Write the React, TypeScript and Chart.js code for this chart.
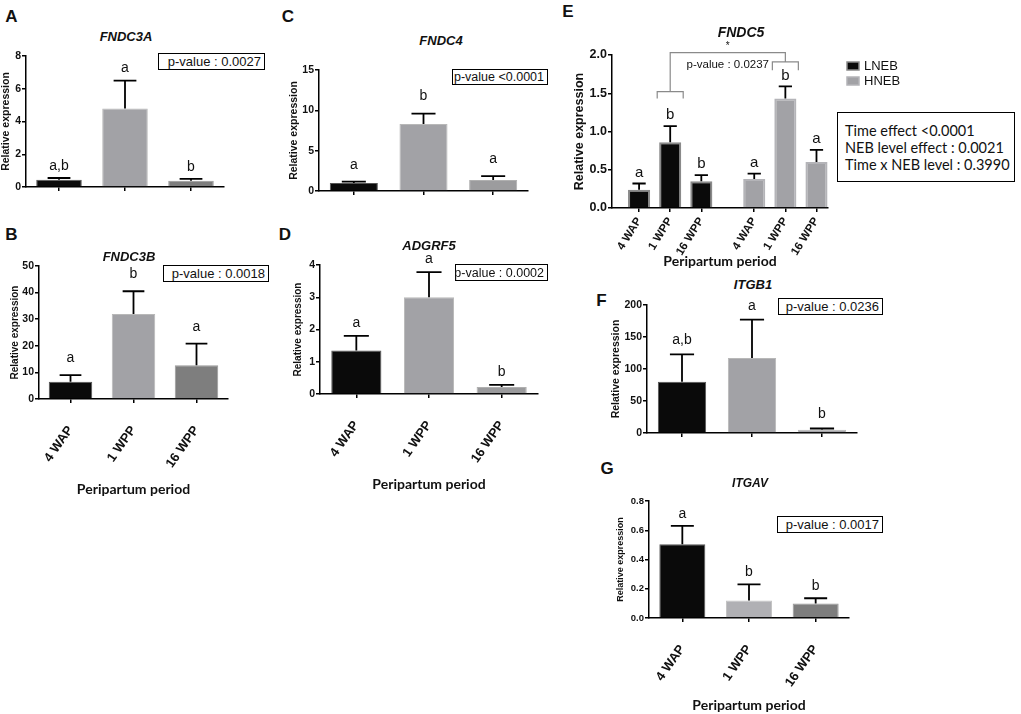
import React, { useEffect, useRef } from "react";
import { Chart, registerables } from "chart.js";

Chart.register(...registerables);

// ---------------- data ----------------
const periods = ["4 WAP", "1 WPP", "16 WPP"];

const fndc3aMean = [0.45, 4.8, 0.38];
const fndc3aSem = [0.1, 1.7, 0.12];
const fndc3aLetters = ["a,b", "a", "b"];
const fndc3aP = "p-value : 0.0027";

const fndc3bMean = [6.5, 32, 12.7];
const fndc3bSem = [2.5, 8.5, 8.1];
const fndc3bLetters = ["a", "b", "a"];
const fndc3bP = "p-value : 0.0018";

const fndc4Mean = [1.0, 8.3, 1.35];
const fndc4Sem = [0.15, 1.3, 0.5];
const fndc4Letters = ["a", "b", "a"];
const fndc4P = "p-value <0.0001";

const adgrf5Mean = [1.35, 3.0, 0.22];
const adgrf5Sem = [0.45, 0.78, 0.06];
const adgrf5Letters = ["a", "a", "b"];
const adgrf5P = "p-value : 0.0002";

const nebGroups = ["LNEB", "HNEB"];
const fndc5LnebMean = [0.24, 0.86, 0.35];
const fndc5LnebSem = [0.08, 0.21, 0.08];
const fndc5LnebLetters = ["a", "b", "b"];
const fndc5HnebMean = [0.38, 1.43, 0.6];
const fndc5HnebSem = [0.07, 0.16, 0.16];
const fndc5HnebLetters = ["a", "b", "a"];
const fndc5PairP = "p-value : 0.0237";
const fndc5Stats = ["Time effect <0.0001", "NEB level effect : 0.0021", "Time x NEB level : 0.3990"];
const fndc5BracketLevels = [1.43, 1.52, 1.8, 1.91, 2.03];

const itgb1Mean = [80, 117, 5];
const itgb1Sem = [43, 60, 2];
const itgb1Letters = ["a,b", "a", "b"];
const itgb1P = "p-value : 0.0236";

const itgavMean = [0.505, 0.12, 0.1];
const itgavSem = [0.125, 0.11, 0.035];
const itgavLetters = ["a", "b", "b"];
const itgavP = "p-value : 0.0017";

// ---------------- styling ----------------
const ARIAL = '"Liberation Sans", Arial, sans-serif';
const CAL = 'Lato, "Open Sans", sans-serif';
const BLACK = "#0a0a0a";
const LIGHT = "#a2a2a6";
const DARK = "#7e7e7e";

// ---------------- plugins ----------------
const errorBarPlugin = {
  id: "errorBars",
  afterDatasetsDraw(chart: any, _args: any, opts: any) {
    const ctx = chart.ctx;
    const y = chart.scales.y;
    ctx.save();
    chart.data.datasets.forEach((ds: any, di: number) => {
      const meta = chart.getDatasetMeta(di);
      meta.data.forEach((bar: any, i: number) => {
        const p = bar.getProps(["x", "y", "width"], true);
        const d = ds.data[i];
        const mean = typeof d === "number" ? d : d.y;
        const top = y.getPixelForValue(mean + ds.sem[i]);
        const cap = p.width * (opts.capRatio ?? 0.5);
        ctx.strokeStyle = "#000";
        ctx.lineWidth = opts.lineWidth ?? 1.8;
        ctx.beginPath();
        ctx.moveTo(p.x, p.y);
        ctx.lineTo(p.x, top);
        ctx.moveTo(p.x - cap / 2, top);
        ctx.lineTo(p.x + cap / 2, top);
        ctx.stroke();
        if (ds.letters) {
          ctx.fillStyle = "#111";
          ctx.font = `${opts.letterSize ?? 14}px ${ARIAL}`;
          ctx.textAlign = "center";
          ctx.textBaseline = "middle";
          ctx.fillText(ds.letters[i], p.x, top - (opts.letterGap ?? 12));
        }
      });
    });
    ctx.restore();
  },
};

const sideLegendPlugin = {
  id: "sideLegend",
  afterDraw(chart: any, _a: any, opts: any) {
    const { ctx, chartArea } = chart;
    ctx.save();
    chart.data.datasets.forEach((ds: any, i: number) => {
      const x = chartArea.right + opts.dx;
      const y = chartArea.top + opts.dy + i * opts.rowGap;
      ctx.fillStyle = ds.backgroundColor;
      ctx.fillRect(x, y - 4, 12, 8);
      ctx.strokeStyle = ds.borderColor;
      ctx.lineWidth = 1.5;
      ctx.strokeRect(x, y - 4, 12, 8);
      ctx.fillStyle = "#111";
      ctx.font = `13px ${ARIAL}`;
      ctx.textAlign = "left";
      ctx.textBaseline = "middle";
      ctx.fillText(ds.label, x + 17, y);
    });
    ctx.restore();
  },
};

const bracketPlugin = {
  id: "brackets",
  afterDraw(chart: any, _a: any, opts: any) {
    const { ctx } = chart;
    const xs = chart.scales.x;
    const ys = chart.scales.y;
    const [l0, l1, h0, h1, top] = fndc5BracketLevels.map((v) => ys.getPixelForValue(v));
    const xL = xs.getPixelForValue(opts.left);
    const xH = xs.getPixelForValue(opts.right);
    const half = 13;
    ctx.save();
    ctx.strokeStyle = "#8a8a8a";
    ctx.lineWidth = 1.2;
    ctx.beginPath();
    ctx.moveTo(xL - half, l0);
    ctx.lineTo(xL - half, l1);
    ctx.lineTo(xL + half, l1);
    ctx.lineTo(xL + half, l0);
    ctx.moveTo(xH - half, h0);
    ctx.lineTo(xH - half, h1);
    ctx.lineTo(xH + half, h1);
    ctx.lineTo(xH + half, h0);
    ctx.moveTo(xL, l1);
    ctx.lineTo(xL, top);
    ctx.lineTo(xH, top);
    ctx.lineTo(xH, h1);
    ctx.stroke();
    const mid = (xL + xH) / 2;
    ctx.fillStyle = "#111";
    ctx.textAlign = "center";
    ctx.textBaseline = "middle";
    ctx.font = `10px ${ARIAL}`;
    ctx.fillText("*", mid, top - 6);
    ctx.font = `11.5px ${ARIAL}`;
    ctx.fillText(fndc5PairP, mid, ys.getPixelForValue(1.87));
    ctx.restore();
  },
};

// ---------------- config builders ----------------
type Geo = { yw: number; padTop: number; padRight: number; xh: number };

function axisOpts(geo: Geo, o: any) {
  return {
    x: {
      type: "category",
      offset: true,
      grid: { display: true, drawOnChartArea: false, drawTicks: true, tickLength: 4, color: "#000", lineWidth: 1.5, offset: false },
      border: { display: true, color: "#000", width: 1.5 },
      ticks: {
        display: o.showX,
        maxRotation: o.rot ?? 55,
        minRotation: o.rot ?? 55,
        autoSkip: false,
        padding: o.xPad ?? 20,
        color: "#111",
        font: { family: ARIAL, weight: "bold", size: o.xFont ?? 13 },
      },
      title: {
        display: o.showX,
        text: "Peripartum period",
        color: "#111",
        padding: 0,
        font: { family: CAL, weight: "bold", size: 14 },
      },
      afterFit: (s: any) => {
        s.height = geo.xh;
      },
    },
    y: {
      min: 0,
      max: o.max,
      grid: { display: true, drawOnChartArea: false, drawTicks: true, tickLength: 4, color: "#000", lineWidth: 1.5 },
      border: { display: true, color: "#000", width: 1.5 },
      ticks: {
        stepSize: o.step,
        padding: 1,
        color: "#111",
        font: { family: ARIAL, weight: "bold", size: o.yFont ?? 10.5 },
        callback: (v: any) => (o.decimals ? Number(v).toFixed(o.decimals) : String(v)),
      },
      title: {
        display: true,
        text: "Relative expression",
        color: "#111",
        padding: 0,
        font: { family: ARIAL, weight: "bold", size: o.yTitle ?? 10.5 },
      },
      afterFit: (s: any) => {
        s.width = geo.yw;
      },
    },
  };
}

function barPanel(geo: Geo, o: any) {
  return {
    type: "bar",
    data: {
      labels: periods,
      datasets: [
        {
          data: o.mean,
          sem: o.sem,
          letters: o.letters,
          backgroundColor: o.colors,
          borderColor: o.borders,
          borderWidth: 1,
          categoryPercentage: 1,
          barPercentage: 0.69,
        },
      ],
    },
    options: {
      responsive: false,
      animation: false,
      layout: { padding: { top: geo.padTop, right: geo.padRight, left: 0, bottom: 0 }, autoPadding: false },
      plugins: {
        legend: { display: false },
        tooltip: { enabled: false },
        errorBars: { letterGap: o.letterGap ?? 12 },
      },
      scales: axisOpts(geo, o),
    },
    plugins: [errorBarPlugin],
  };
}

const eGroupGap = 0.7;
const ePositions = nebGroups.flatMap((_, g) => periods.map((_, i) => g * (periods.length + eGroupGap) + i));
const eTickLabels = nebGroups.flatMap(() => periods);

function fndc5Panel(geo: Geo) {
  const axes: any = axisOpts(geo, { showX: true, max: 2, step: 0.5, decimals: 1, yFont: 12.5, yTitle: 12.5, xPad: 3, xFont: 11.5, rot: 58 });
  axes.x = {
    ...axes.x,
    type: "linear",
    offset: false,
    min: -0.87,
    max: 6.07,
    afterBuildTicks: (s: any) => {
      s.ticks = ePositions.map((v) => ({ value: v }));
    },
    ticks: { ...axes.x.ticks, callback: (_v: any, i: number) => eTickLabels[i] },
  };
  const means = [fndc5LnebMean, fndc5HnebMean];
  const sems = [fndc5LnebSem, fndc5HnebSem];
  const letters = [fndc5LnebLetters, fndc5HnebLetters];
  const fills = [BLACK, LIGHT];
  const borders = ["#8a8a8a", "#b4b4b8"];
  return {
    type: "bar",
    data: {
      datasets: nebGroups.map((g, gi) => ({
        label: g,
        data: periods.map((_, i) => ({ x: ePositions[gi * periods.length + i], y: means[gi][i] })),
        sem: sems[gi],
        letters: letters[gi],
        backgroundColor: fills[gi],
        borderColor: borders[gi],
        borderWidth: 2,
        grouped: false,
        categoryPercentage: 1,
        barPercentage: 0.71,
      })),
    },
    options: {
      responsive: false,
      animation: false,
      layout: { padding: { top: geo.padTop, right: geo.padRight, left: 0, bottom: 0 }, autoPadding: false },
      plugins: {
        legend: { display: false },
        tooltip: { enabled: false },
        errorBars: { letterGap: 11, capRatio: 0.6, letterSize: 15 },
        sideLegend: { dx: 19, dy: 11, rowGap: 15 },
        brackets: { left: ePositions[1], right: ePositions[4] },
      },
      scales: axes,
    },
    plugins: [errorBarPlugin, sideLegendPlugin, bracketPlugin],
  };
}

// ---------------- components ----------------
function ChartCanvas({ rect, make }: { rect: number[]; make: () => any }) {
  const ref = useRef<HTMLCanvasElement>(null);
  useEffect(() => {
    const chart = new Chart(ref.current as HTMLCanvasElement, make());
    return () => chart.destroy();
  }, []);
  const [l, t, w, h] = rect;
  return (
    <canvas
      ref={ref}
      width={w}
      height={h}
      style={{ position: "absolute", left: l, top: t, width: w, height: h }}
    />
  );
}

function Txt({ x, y, children, style }: any) {
  return (
    <div
      style={{
        position: "absolute",
        left: x,
        top: y,
        transform: "translate(-50%,-50%)",
        whiteSpace: "nowrap",
        lineHeight: 1,
        color: "#111",
        ...style,
      }}
    >
      {children}
    </div>
  );
}

function PBox({ l, t, w, h, text, size }: any) {
  return (
    <div
      style={{
        position: "absolute",
        left: l,
        top: t,
        width: w,
        height: h,
        border: "1.5px solid #000",
        boxSizing: "border-box",
        display: "flex",
        alignItems: "center",
        justifyContent: "flex-end",
        paddingRight: 3,
        fontFamily: ARIAL,
        fontSize: size ?? 13,
        color: "#111",
        whiteSpace: "nowrap",
        background: "#fff",
      }}
    >
      {text}
    </div>
  );
}

const letterStyle = { fontFamily: ARIAL, fontWeight: "bold", fontSize: 17 };
const geneStyle = { fontFamily: ARIAL, fontWeight: "bold", fontStyle: "italic", fontSize: 13 };

export default function App() {
  useEffect(() => {
    document.body.style.margin = "0";
  }, []);
  return (
    <div style={{ position: "absolute", left: 0, top: 0, width: 1021, height: 714, background: "#fff", overflow: "hidden" }}>
      <ChartCanvas
        rect={[0, 45, 228, 150]}
        make={() =>
          barPanel({ yw: 26, padTop: 11, padRight: 4, xh: 8 }, {
            mean: fndc3aMean, sem: fndc3aSem, letters: fndc3aLetters,
            colors: [BLACK, LIGHT, DARK], borders: ["#555", "#b8b8b8", "#999"],
            showX: false, max: 8, step: 2, letterGap: 12, yTitle: 10.5,
          })
        }
      />
      <ChartCanvas
        rect={[9, 255, 223, 243]}
        make={() =>
          barPanel({ yw: 30, padTop: 11, padRight: 4, xh: 99 }, {
            mean: fndc3bMean, sem: fndc3bSem, letters: fndc3bLetters,
            colors: [BLACK, LIGHT, DARK], borders: ["#555", "#b8b8b8", "#999"],
            showX: true, max: 50, step: 10, letterGap: 17, yTitle: 10,
          })
        }
      />
      <ChartCanvas
        rect={[288, 58, 244, 141]}
        make={() =>
          barPanel({ yw: 31, padTop: 12, padRight: 4, xh: 8 }, {
            mean: fndc4Mean, sem: fndc4Sem, letters: fndc4Letters,
            colors: [BLACK, LIGHT, "#9c9c9e"], borders: ["#555", "#b8b8b8", "#b0b0b0"],
            showX: false, max: 15, step: 5, letterGap: 17, yTitle: 10.5,
          })
        }
      />
      <ChartCanvas
        rect={[292, 253, 250, 240]}
        make={() =>
          barPanel({ yw: 28, padTop: 12, padRight: 4, xh: 99 }, {
            mean: adgrf5Mean, sem: adgrf5Sem, letters: adgrf5Letters,
            colors: [BLACK, LIGHT, "#9a9a9c"], borders: ["#555", "#b8b8b8", "#b0b0b0"],
            showX: true, max: 4, step: 1, letterGap: 13, yTitle: 10,
          })
        }
      />
      <ChartCanvas rect={[572, 30, 333, 240]} make={() => fndc5Panel({ yw: 40, padTop: 25, padRight: 77, xh: 62 })} />
      <ChartCanvas
        rect={[610, 293, 251, 148]}
        make={() =>
          barPanel({ yw: 37, padTop: 12, padRight: 4, xh: 8 }, {
            mean: itgb1Mean, sem: itgb1Sem, letters: itgb1Letters,
            colors: [BLACK, LIGHT, "#a6a6aa"], borders: ["#555", "#b8b8b8", "#b8b8b8"],
            showX: false, max: 200, step: 50, letterGap: 14, yTitle: 10.5,
          })
        }
      />
      <ChartCanvas
        rect={[615, 488, 238, 226]}
        make={() =>
          barPanel({ yw: 34, padTop: 13, padRight: 4, xh: 96 }, {
            mean: itgavMean, sem: itgavSem, letters: itgavLetters,
            colors: [BLACK, "#b0b0b4", DARK], borders: ["#555", "#c4c4c4", "#999"],
            showX: true, max: 0.8, step: 0.2, decimals: 1, letterGap: 12, yTitle: 9, yFont: 9.5,
          })
        }
      />

      <Txt x={11.5} y={16} style={letterStyle}>A</Txt>
      <Txt x={11.5} y={234} style={letterStyle}>B</Txt>
      <Txt x={288} y={16} style={letterStyle}>C</Txt>
      <Txt x={285} y={234} style={letterStyle}>D</Txt>
      <Txt x={568} y={11} style={letterStyle}>E</Txt>
      <Txt x={601.5} y={300} style={letterStyle}>F</Txt>
      <Txt x={607} y={468} style={letterStyle}>G</Txt>

      <Txt x={126} y={36} style={geneStyle}>FNDC3A</Txt>
      <Txt x={129} y={256} style={geneStyle}>FNDC3B</Txt>
      <Txt x={441} y={40} style={geneStyle}>FNDC4</Txt>
      <Txt x={429} y={245} style={geneStyle}>ADGRF5</Txt>
      <Txt x={741} y={32} style={{ ...geneStyle, fontSize: 14 }}>FNDC5</Txt>
      <Txt x={753} y={284} style={geneStyle}>ITGB1</Txt>
      <Txt x={750} y={483} style={{ ...geneStyle, fontSize: 12 }}>ITGAV</Txt>

      <PBox l={158} t={53} w={107} h={17} text={fndc3aP} />
      <PBox l={163} t={265} w={106} h={17} text={fndc3bP} />
      <PBox l={452} t={69} w={96} h={16} text={fndc4P} size={12.5} />
      <PBox l={455} t={264} w={93} h={17} text={adgrf5P} size={12.5} />
      <PBox l={778} t={298} w={105} h={17} text={itgb1P} />
      <PBox l={777} t={516} w={106} h={17} text={itgavP} />

      <div
        style={{
          position: "absolute",
          left: 837,
          top: 112,
          width: 178,
          height: 70,
          border: "1.5px solid #000",
          boxSizing: "border-box",
          paddingLeft: 7,
          paddingTop: 9,
          fontFamily: CAL,
          fontSize: 14.5,
          lineHeight: "17px",
          color: "#111",
          whiteSpace: "nowrap",
          background: "#fff",
        }}
      >
        {fndc5Stats.map((s) => (
          <div key={s}>{s}</div>
        ))}
      </div>
    </div>
  );
}
